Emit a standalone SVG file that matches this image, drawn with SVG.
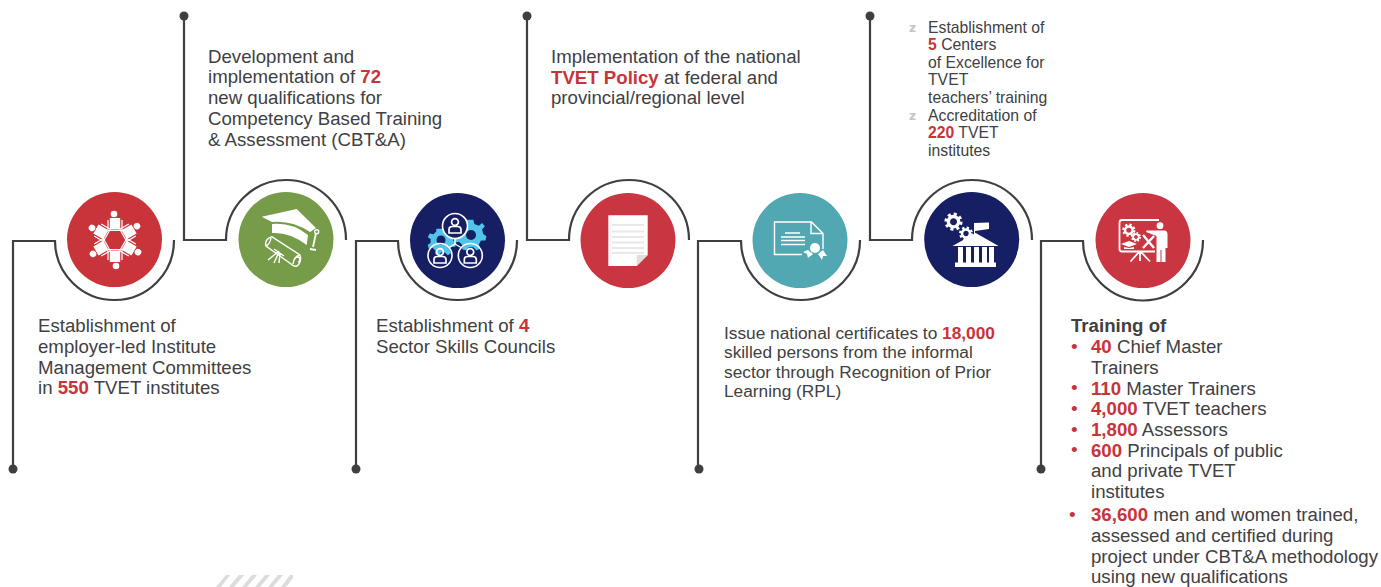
<svg xmlns="http://www.w3.org/2000/svg" xmlns:xlink="http://www.w3.org/1999/xlink" width="1381" height="587" viewBox="0 0 1381 587">
<style>
text{font-family:"Liberation Sans",Arial,sans-serif;fill:#414042;font-size:18.65px}
.r{fill:#c9333a;font-weight:700}
.s16{font-size:15.75px}
.s17{font-size:17.3px}
.h{font-weight:700}
.ln{fill:none;stroke:#3f3f41;stroke-width:2.2}
.dot{fill:#3f3f41}
.w{fill:#fff}
.wl{fill:none;stroke:#fff;stroke-width:1.4}
.bl{fill:#c9333a;font-size:19px}
.zb{fill:#c4c4c4;font-size:12px;font-weight:700;font-family:"DejaVu Sans",sans-serif}
.st{fill:#dcdcdc}
</style>
<defs>
<g id="gear"><circle r="4" fill="none" stroke="#fff" stroke-width="2.6"/><circle r="5.8" fill="none" stroke="#fff" stroke-width="2.4" stroke-dasharray="2.3 2.25"/></g>
<g id="person"><circle cx="-1" cy="-26" r="3.3" class="w"/><rect x="-5.2" y="-22" width="10.4" height="11.5" class="w"/><path d="M-7,-20 V-9.5 H7 V-20" fill="none" stroke="#fff" stroke-width="1.2"/></g>
<g id="mini"><circle cy="-4" r="3.4" fill="none" stroke="#fff" stroke-width="1.7"/><path d="M-6,7 V3.5 Q-6,0.5 -2.5,0.5 H2.5 Q6,0.5 6,3.5 V7 Z" fill="none" stroke="#fff" stroke-width="1.7"/></g>
<path id="bgear" d="M0,-13 L3,-13 L4,-9 L8,-7.5 L11,-10 L13.5,-7 L11,-4 L12,0 L15,2 L14,6 L10,6 L8,9.5 L9.5,13 L6,15 L3,12 L-1,12 L-3,15 L-7,14 L-7,10 L-10,7 L-14,8 L-15,4 L-12,2 L-12,-2 L-15,-4 L-13,-8 L-9,-7 L-6,-10 L-6,-13 Z" fill="#50c4ea"/>
</defs>

<g id="connectors">
<path class="ln" d="M13,469 V241 H55 A59.5,59.5 0 0 0 174,240"/>
<path class="ln" d="M184,16 V240 H226 A60,60 0 0 1 346,240"/>
<path class="ln" d="M356,469 V241 H398 A59.5,59.5 0 0 0 517,240"/>
<path class="ln" d="M527,16 V240 H569 A60,60 0 0 1 689,240"/>
<path class="ln" d="M698,469 V241 H741 A59.5,59.5 0 0 0 860,240"/>
<path class="ln" d="M870,16 V240 H912 A60,60 0 0 1 1032,240"/>
<path class="ln" d="M1041,469 V241 H1083 A60,60 0 0 0 1203,240"/>
<circle class="dot" cx="13" cy="469" r="4.5"/>
<circle class="dot" cx="184" cy="16" r="4.5"/>
<circle class="dot" cx="356" cy="469" r="4.5"/>
<circle class="dot" cx="527" cy="16" r="4.5"/>
<circle class="dot" cx="699" cy="469" r="4.5"/>
<circle class="dot" cx="870" cy="16" r="4.5"/>
<circle class="dot" cx="1041" cy="469" r="4.5"/>
</g>

<g id="node1">
<circle cx="114.5" cy="239.5" r="47.5" fill="#c9333a"/>
<g transform="translate(115,240)">
<use xlink:href="#person"/>
<use xlink:href="#person" transform="rotate(60)"/>
<use xlink:href="#person" transform="rotate(120)"/>
<use xlink:href="#person" transform="rotate(180)"/>
<use xlink:href="#person" transform="rotate(240)"/>
<use xlink:href="#person" transform="rotate(300)"/>
</g>
<text x="38" y="331.5">Establishment of</text>
<text x="38" y="352.5">employer-led Institute</text>
<text x="38" y="373.5">Management Committees</text>
<text x="38" y="394">in <tspan class="r">550</tspan> TVET institutes</text>
</g>

<g id="node2">
<circle cx="286" cy="239.5" r="47.5" fill="#769c4a"/>
<path class="w" d="M261.7,216.7 L296.7,209 L316,228 L310,232 Q292,220 272,222 Z"/>
<path class="w" d="M272,224 Q292,222 308,235 L306.7,245 Q290,232 272,233 Z"/>
<circle class="wl" cx="316.7" cy="231.7" r="2"/>
<path fill="none" stroke="#fff" stroke-width="1.8" d="M316,233 L313,247 M310,249 L316,250"/>
<path class="wl" d="M271.7,236.7 L300,255 Q302,262 297,266 Q294,267 291,264 L266,246 Q264,240 271.7,236.7 Z M266,246 Q270,244 271,238"/>
<path class="wl" d="M293,264 Q294,256 300,255 M295,259 A2.5,2.5 0 1 1 298,262"/>
<path class="wl" d="M274,249 L284,256 M279,251 L268,260 M279,252 L274,263 M280,253 L279,263"/>
<text x="208" y="63">Development and</text>
<text x="208" y="83">implementation of <tspan class="r">72</tspan></text>
<text x="208" y="104">new qualifications for</text>
<text x="208" y="125">Competency Based Training</text>
<text x="208" y="146">&amp; Assessment (CBT&amp;A)</text>
</g>

<g id="node3">
<circle cx="457.5" cy="240.5" r="47.5" fill="#161f63"/>
<use xlink:href="#bgear" transform="translate(470,234) scale(1.1)"/>
<use xlink:href="#bgear" transform="translate(442,241) scale(0.95)"/>
<circle cx="471" cy="235" r="5" fill="#161f63"/>
<circle cx="441" cy="240" r="4.5" fill="#161f63"/>
<circle cx="455" cy="226" r="12.5" fill="#161f63" stroke="#fff" stroke-width="1.6"/>
<circle cx="440" cy="255.5" r="12" fill="none" stroke="#fff" stroke-width="1.6"/>
<circle cx="470.3" cy="255.5" r="12" fill="none" stroke="#fff" stroke-width="1.6"/>
<path class="wl" d="M455,238.5 V244 L449,247.5 M455,244 L461,247.5"/>
<use xlink:href="#mini" transform="translate(455,226)"/>
<use xlink:href="#mini" transform="translate(440,256)"/>
<use xlink:href="#mini" transform="translate(470.3,256)"/>
<text x="376" y="331.5">Establishment of <tspan class="r">4</tspan></text>
<text x="376" y="352.5">Sector Skills Councils</text>
</g>

<g id="node4">
<circle cx="628" cy="240.5" r="47.5" fill="#c93540"/>
<path class="w" d="M608.3,215.3 H647.7 V255 L636.7,266 H608.3 Z"/>
<path fill="none" stroke="#e8e8e6" stroke-width="2.2" d="M612,225 H644 M612,231.5 H644 M612,237 H644 M612,242.5 H644 M612,248 H644 M612,253 H644"/>
<path fill="#dfdfdc" d="M636.7,266 V255 H647.7 Z"/>
<text x="551" y="63">Implementation of the national</text>
<text x="551" y="84"><tspan class="r">TVET Policy</tspan> at federal and</text>
<text x="551" y="104">provincial/regional level</text>
</g>

<g id="node5">
<circle cx="800" cy="240.5" r="47.5" fill="#52a8b2"/>
<path class="wl" d="M802,254.5 H774.5 V222 H811.5 L823,233.5 V249"/>
<path class="wl" d="M811,222 V233.5 H823"/>
<path fill="none" stroke="#fff" stroke-width="1.4" d="M785,233 H800 M781,237 H805 M781,240.5 H805 M781,244.5 H805"/>
<circle class="w" cx="815" cy="248" r="5"/>
<path class="w" d="M808,250 L803,252 L807,254 L808,258 L813,254 Z M818,254 L822,260 L823,256 L827,256 L823,250 Z"/>
<text class="s17" x="724" y="339">Issue national certificates to <tspan class="r">18,000</tspan></text>
<text class="s17" x="724" y="358">skilled persons from the informal</text>
<text class="s17" x="724" y="378">sector through Recognition of Prior</text>
<text class="s17" x="724" y="397">Learning (RPL)</text>
</g>

<g id="node6">
<circle cx="971.7" cy="239.5" r="47.5" fill="#161f63"/>
<use xlink:href="#gear" transform="translate(953.5,221.7) scale(1.3)"/>
<use xlink:href="#gear" transform="translate(966,233.5) scale(1)"/>
<path class="w" d="M974,223 L989,222.5 V229 L975,231 V237 H974 Z"/>
<path class="w" d="M952.5,246 L975.7,233 L998.5,246 Z"/>
<path class="w" d="M958,247 H963 V263 H958 Z M966,247 H971 V263 H966 Z M974,247 H979 V263 H974 Z M982,247 H987 V263 H982 Z M989,247 H994 V263 H989 Z"/>
<rect class="w" x="955" y="262.5" width="41" height="4.5"/>
<text class="zb" x="909" y="32">z</text>
<text class="s16" x="928" y="32.5">Establishment of</text>
<text class="s16" x="928" y="50"><tspan class="r">5</tspan> Centers</text>
<text class="s16" x="928" y="67.5">of Excellence for</text>
<text class="s16" x="928" y="85">TVET</text>
<text class="s16" x="928" y="103">teachers’ training</text>
<text class="zb" x="909" y="120">z</text>
<text class="s16" x="928" y="120.5">Accreditation of</text>
<text class="s16" x="928" y="138"><tspan class="r">220</tspan> TVET</text>
<text class="s16" x="928" y="155.5">institutes</text>
</g>

<g id="node7">
<circle cx="1143" cy="240.5" r="47.5" fill="#c93540"/>
<path fill="none" stroke="#fff" stroke-width="1.8" d="M1159,220 H1122 Q1119.5,220 1119.5,222.5 V249 Q1119.5,251.5 1122,251.5 H1155"/>
<path class="w" d="M1160,230.5 H1164 Q1167.5,230.5 1167.5,234.5 V248 H1165.5 V262 H1161.5 V250 H1160.5 V262 H1156.5 V236 L1146,232 L1146.5,230.5 Z"/>
<circle class="w" cx="1160" cy="225.7" r="3.4"/>
<use xlink:href="#gear" transform="translate(1128.8,230.2) scale(0.95)"/>
<use xlink:href="#gear" transform="translate(1136,237) scale(0.72)"/>
<path fill="none" stroke="#fff" stroke-width="2.4" d="M1143,235 L1154,248 M1154,236 L1143,248"/>
<path class="w" d="M1121,244 L1129,241 L1137,244 L1129,247 Z M1124,247 L1129,248 L1134,247 V249 H1124 Z"/>
<path fill="none" stroke="#fff" stroke-width="1.8" d="M1140,251 V261 M1139,252 L1130.5,261.5 M1141,252 L1150,261.5"/>
<text class="h" x="1071" y="332">Training of</text>
<text class="bl" x="1071" y="353">•</text>
<text x="1091" y="353"><tspan class="r">40</tspan> Chief Master</text>
<text x="1091" y="373.5">Trainers</text>
<text class="bl" x="1071" y="394">•</text>
<text x="1091" y="394.5"><tspan class="r">110</tspan> Master Trainers</text>
<text class="bl" x="1071" y="415">•</text>
<text x="1091" y="415"><tspan class="r">4,000</tspan> TVET teachers</text>
<text class="bl" x="1071" y="436">•</text>
<text x="1091" y="436"><tspan class="r">1,800</tspan> Assessors</text>
<text class="bl" x="1071" y="456">•</text>
<text x="1091" y="456.5"><tspan class="r">600</tspan> Principals of public</text>
<text x="1091" y="477">and private TVET</text>
<text x="1091" y="498">institutes</text>
<text class="bl" x="1069" y="521">•</text>
<text x="1091" y="521"><tspan class="r">36,600</tspan> men and women trained,</text>
<text x="1091" y="542">assessed and certified during</text>
<text x="1091" y="563">project under CBT&amp;A methodology</text>
<text x="1091" y="583">using new qualifications</text>
</g>

<g id="hatch">
<path class="st" d="M216,587 L226,575 H230 L221,587 Z M229,587 L239,575 H244 L234,587 Z M242,587 L252,575 H257 L247,587 Z M255,587 L265,575 H270 L260,587 Z M268,587 L278,575 H283 L273,587 Z M281,587 L290,575 H293 V578 L286,587 Z"/>
</g>
</svg>
